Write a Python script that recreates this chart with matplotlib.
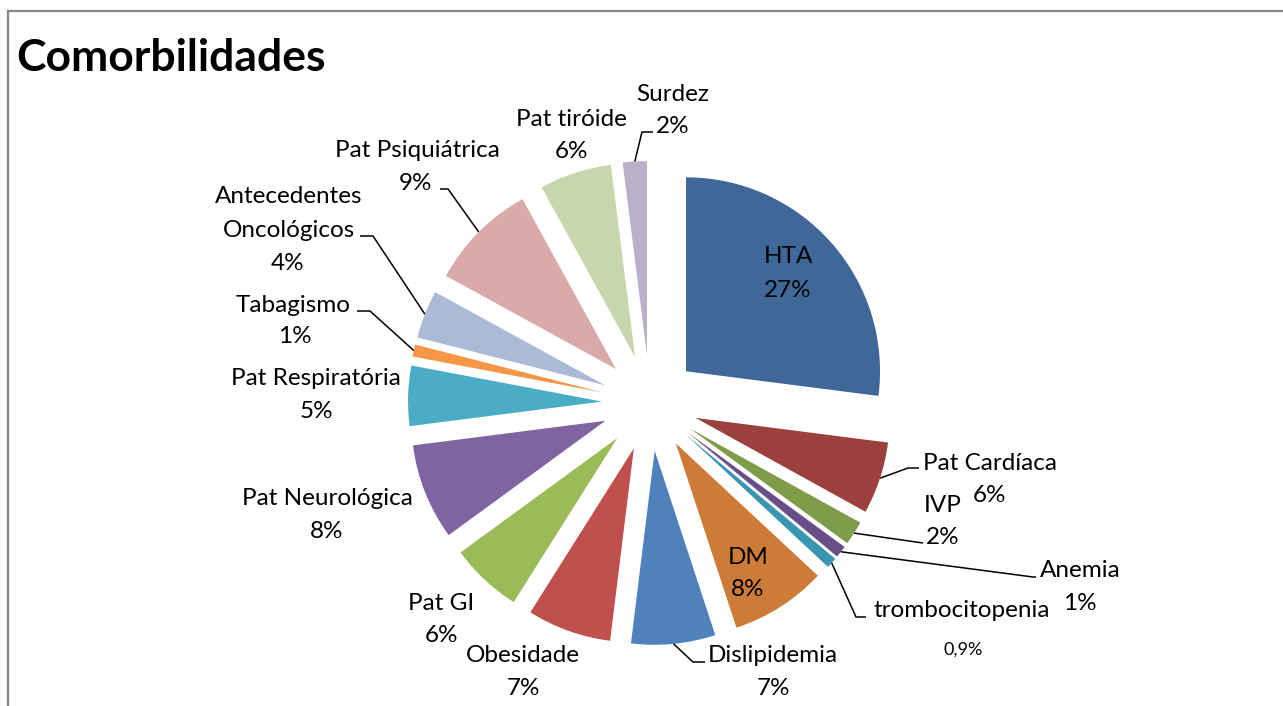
import matplotlib
matplotlib.use("Agg")
import matplotlib.pyplot as plt
import numpy as np

W, H = 1283, 706

# Comorbidity shares (%), clockwise from 12 o'clock
categories = ["HTA", "Pat Cardíaca", "IVP", "Anemia", "trombocitopenia", "DM",
              "Dislipidemia", "Obesidade", "Pat GI", "Pat Neurológica",
              "Pat Respiratória", "Tabagismo", "Antecedentes\nOncológicos",
              "Pat Psiquiátrica", "Pat tiróide", "Surdez"]
percentages = [27, 6, 2, 1, 0.9, 8, 7, 7, 6, 8, 5, 1, 4, 9, 6, 2]
colors = ["#3F6899", "#9C403D", "#7E9C4A", "#684F88", "#3A95B1", "#CC7B38",
          "#4F81BD", "#C0504D", "#9BBB59", "#8064A2", "#4BACC6", "#F79646",
          "#AABAD7", "#D9AAA9", "#C7D6AC", "#BAB0C9"]

FONT = "Lato"
LABEL_SIZE = 17.5
LINE = 33          # line pitch of two-line labels (px)

# label layout in pixel coords (y downwards):
# (name x, name baseline, pct x, pct baseline, leader bend points, pct size)
layout = {
    0:  (788, 263, 788, 297, None, LABEL_SIZE),
    1:  (990, 470, 990, 502, [(908, 468), (919, 468)], LABEL_SIZE),
    2:  (943, 512, 943, 544, [(923, 543)], LABEL_SIZE),
    3:  (1080, 577, 1080, 610, [(1033, 577), (1036, 577)], LABEL_SIZE),
    4:  (962, 617, 963, 655, [(856, 617), (866, 617)], 13),
    5:  (748, 564, 748, 596, None, LABEL_SIZE),
    6:  (773, 662, 773, 695, [(693, 662), (705, 662)], LABEL_SIZE),
    7:  (523, 662, 524, 695, None, LABEL_SIZE),
    8:  (441, 610, 441, 642, None, LABEL_SIZE),
    9:  (327, 505, 327, 538, None, LABEL_SIZE),
    10: (316, 385, 316, 418, None, LABEL_SIZE),
    11: (293, 312, 295, 343, [(370, 311), (357, 311)], LABEL_SIZE),
    12: (289, 203, 288, 270, [(373, 236), (360, 236)], LABEL_SIZE),
    13: (417, 157, 416, 190, [(448, 189), (440, 189)], LABEL_SIZE),
    14: (571, 126, 571, 158, None, LABEL_SIZE),
    15: (673, 101, 673, 133, [(642, 132), (653, 132)], LABEL_SIZE),
}


def fy(y):
    return H - y


def pct_text(v):
    return (f"{v:g}%").replace(".", ",")


fig = plt.figure(figsize=(W / 100, H / 100), dpi=100)
ax = fig.add_axes([0, 0, 1, 1])

CX, CY, R, GAP = 650, 403, 194, 48
wedges, _ = ax.pie(percentages, colors=colors, startangle=90, counterclock=False,
                   radius=R, center=(CX, fy(CY)), explode=[GAP] * len(percentages),
                   frame=True, wedgeprops=dict(linewidth=0))
ax.set_xlim(0, W)
ax.set_ylim(0, H)
ax.axis("off")

for i, (name, val, w) in enumerate(zip(categories, percentages, wedges)):
    nx, ny, px_, py_, bends, psize = layout[i]
    for k, line in enumerate(name.split("\n")):
        ax.text(nx, fy(ny + k * (LINE + 1)), line, ha="center", va="baseline",
                fontsize=LABEL_SIZE, family=FONT, color="black")
    ax.text(px_, fy(py_), pct_text(val), ha="center", va="baseline",
            fontsize=psize, family=FONT, color="black")
    if bends:
        th = np.deg2rad(0.5 * (w.theta1 + w.theta2))
        sx = w.center[0] + w.r * np.cos(th)
        sy = w.center[1] + w.r * np.sin(th)
        xs = [sx] + [b[0] for b in bends]
        ys = [sy] + [fy(b[1]) for b in bends]
        ax.plot(xs, ys, color="black", lw=1.1, solid_capstyle="butt")

# chart title
ax.text(16, fy(71), "Comorbilidades", ha="left", va="baseline", fontsize=32,
        fontweight="bold", family=FONT, color="black")

# chart area border
ax.plot([8, W + 5], [fy(11), fy(11)], color="#878787", lw=1.6, clip_on=False)
ax.plot([8, 8], [fy(11), -5], color="#878787", lw=1.6, clip_on=False)

fig.savefig("out.png", dpi=100, facecolor="white")
